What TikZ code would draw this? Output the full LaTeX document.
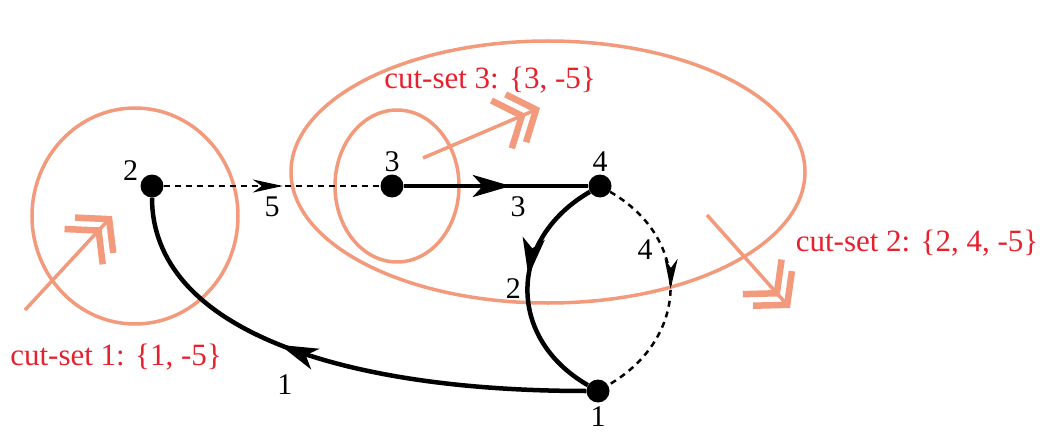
\documentclass[tikz,border=0pt]{standalone}
\usepackage{fontspec}
\setmainfont{Liberation Serif}
\usetikzlibrary{positioning,arrows.meta,decorations.markings}
\definecolor{cutorange}{HTML}{F39A7C}
\definecolor{cutred}{HTML}{E8202E}
\tikzset{
  bigtip/.tip={Stealth[length=38pt,width=22pt,inset=10pt]},
  smalltip/.tip={Stealth[length=30pt,width=13pt,inset=9pt]},
  cuttip/.tip={Straight Barb[length=22pt,width=52pt,line width=6.5pt,sep=-14pt] Straight Barb[length=22pt,width=52pt,line width=6.5pt]}
}

\begin{document}
\begin{tikzpicture}[x=1pt, y=1pt, >=Stealth,
    vertex/.style={circle, fill=black, inner sep=0pt, minimum size=23pt},
    vlabel/.style={font=\fontsize{30}{36}\selectfont},
    cutring/.style={draw=cutorange, line width=3.5pt},
    cutarrow/.style={draw=cutorange, line width=3.5pt, -{cuttip}},
    cutlabel/.style={text=cutred, font=\fontsize{31}{37}\selectfont},
    solidedge/.style={line width=4.5pt},
    dashedge/.style={line width=2.5pt, dash pattern=on 6pt off 5pt},
    midbig/.style={postaction={decorate, decoration={markings, mark=at position #1 with {\arrow{bigtip}}}}},
    midsmall/.style={postaction={decorate, decoration={markings, mark=at position #1 with {\arrow{smalltip}}}}}]
  \useasboundingbox (0,0) rectangle (1047,440);
  % cut-set rings
  \draw[cutring] (135,224) ellipse (103 and 108);
  \draw[cutring] (548,268) ellipse (257 and 131);
  \draw[cutring] (397,254) ellipse (62 and 76);
  % vertices
  \node[vertex] (n2) at (152,254) {};
  \node[vertex] (n3) at (392,254) {};
  \node[vertex] (n4) at (600,254) {};
  \node[vertex] (n1) at (598,49) {};
  \node[vlabel, above left=-6pt and 2pt of n2] (l2) {2};
  \node[vlabel, above=-1pt of n3] (l3) {3};
  \node[vlabel, above=-1pt of n4] (l4) {4};
  \node[vlabel, below=0pt of n1] (l1) {1};
  % edges
  \draw[dashedge, midsmall=0.55] (n2) -- node[vlabel, pos=0.5, below=6pt] {5} (n3);
  \draw[solidedge, midbig=0.58] (n3) -- node[vlabel, pos=0.62, below=5pt] {3} (n4);
  \draw[solidedge, midbig=0.45] (n4) to[out=210, in=150, looseness=1.25]
    node[vlabel, pos=0.5, left=1pt] {2} (n1);
  \draw[dashedge, midsmall=0.5] (n4) to[out=-30, in=30, looseness=1.25]
    node[vlabel, pos=0.32, left=6pt] {4} (n1);
  \draw[solidedge, midbig=0.6] (n1) to[out=180, in=-90, out distance=250pt, in distance=130pt]
    node[vlabel, pos=0.48, below=22pt] {1} (n2);
  % cut-set arrows
  \coordinate (c1s) at (25,130);
  \coordinate (c1e) at (112,224);
  \coordinate (c3s) at (423,282);
  \coordinate (c3e) at (540,332);
  \coordinate (c2s) at (707,225);
  \coordinate (c2e) at (790,132);
  \draw[cutarrow] (c1s) -- (c1e);
  \draw[cutarrow] (c3s) -- (c3e);
  \draw[cutarrow] (c2s) -- (c2e);
  % cut-set labels
  \node[cutlabel] (t1) at (116,83) {cut-set 1: \{1, -5\}};
  \node[cutlabel] (t3) at (490,360) {cut-set 3: \{3, -5\}};
  \node[cutlabel] (t2) at (917,197) {cut-set 2: \{2, 4, -5\}};
\end{tikzpicture}
\end{document}
